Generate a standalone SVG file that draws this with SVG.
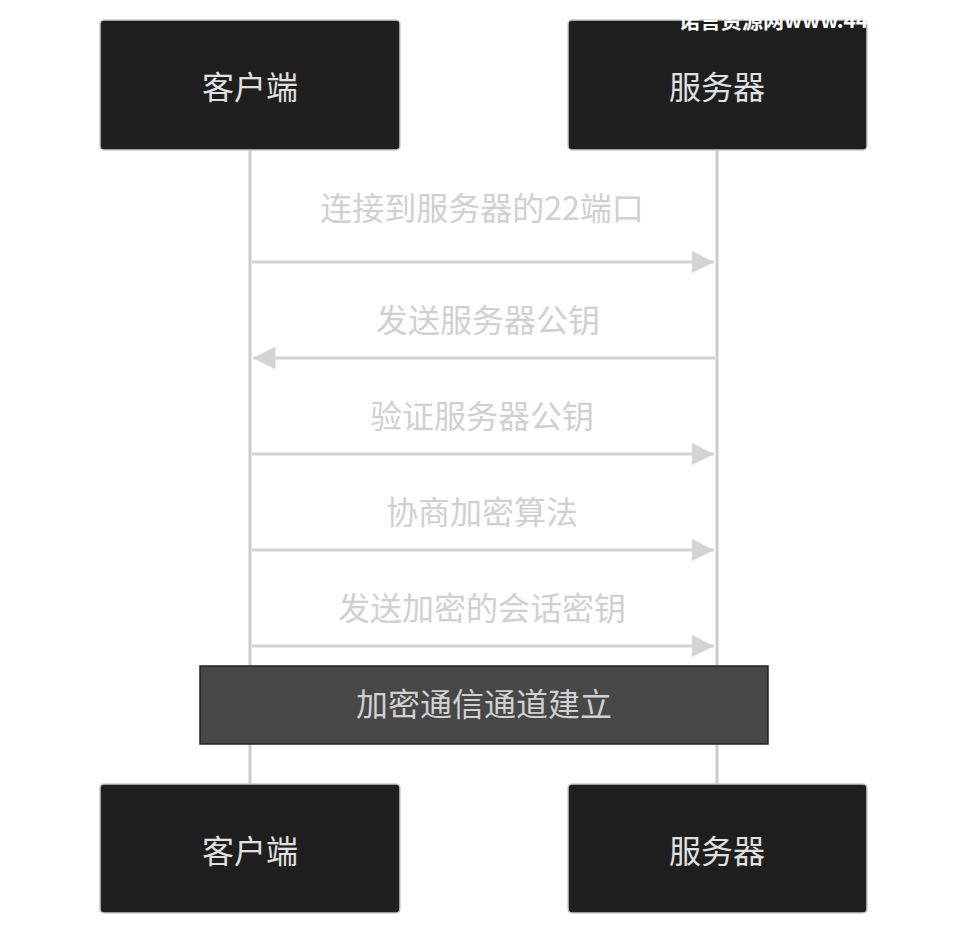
<svg xmlns="http://www.w3.org/2000/svg" width="968" height="936" viewBox="0 0 968 936">
<style>
.actor{fill:#1f1f1f;stroke:#ccc;stroke-width:1.5}
.at{fill:#e0e0e0;font:32px "Noto Sans CJK SC","Noto Sans",sans-serif;text-anchor:middle;dominant-baseline:central}
.ml{fill:#d0d0d0;font:32px "Noto Sans CJK SC","Noto Sans",sans-serif;text-anchor:middle}
.msg{stroke:#d3d3d3;stroke-width:3;fill:none}
.life{stroke:#ccc;stroke-width:3}
</style>
<defs>
<marker id="ah" viewBox="0 0 10 10" refX="10" refY="5" markerWidth="7.5" markerHeight="7.5" markerUnits="strokeWidth" orient="auto"><path d="M0,0L10,5L0,10z" fill="#d3d3d3"/></marker>
</defs>
<rect width="968" height="936" fill="#fff"/>
<g id="lifelines"><line class="life" x1="250" y1="150" x2="250" y2="785"/><line class="life" x1="717" y1="150" x2="717" y2="785"/></g>
<g id="client-top"><rect class="actor" x="100" y="20" width="300" height="130" rx="4"/><text class="at" x="250" y="85">客户端</text></g>
<g id="server-top"><rect class="actor" x="568" y="20" width="299" height="130" rx="4"/><text class="at" x="717" y="85">服务器</text></g>
<text x="679" y="28" fill="#fff" font-family="Noto Sans CJK SC,sans-serif" font-weight="bold" font-size="21">诺言资源网www.44</text>
<g id="connectors">
<line class="msg" x1="252" y1="262" x2="714" y2="262" marker-end="url(#ah)"/>
<text class="ml" x="482" y="220">连接到服务器的22端口</text>
<line class="msg" x1="715" y1="358" x2="253" y2="358" marker-end="url(#ah)"/>
<text class="ml" x="488" y="332">发送服务器公钥</text>
<line class="msg" x1="252" y1="454" x2="714" y2="454" marker-end="url(#ah)"/>
<text class="ml" x="482" y="428">验证服务器公钥</text>
<line class="msg" x1="252" y1="550" x2="714" y2="550" marker-end="url(#ah)"/>
<text class="ml" x="482" y="524">协商加密算法</text>
<line class="msg" x1="252" y1="646" x2="714" y2="646" marker-end="url(#ah)"/>
<text class="ml" x="482" y="620">发送加密的会话密钥</text>
</g>
<g id="note"><rect x="200" y="666" width="568" height="78" fill="#484848" stroke="#222" stroke-width="1.5"/><text class="ml" x="484" y="716" fill="#cfcfcf">加密通信通道建立</text></g>
<g id="client-bottom"><rect class="actor" x="100" y="784" width="300" height="129" rx="4"/><text class="at" x="250" y="849">客户端</text></g>
<g id="server-bottom"><rect class="actor" x="568" y="784" width="299" height="129" rx="4"/><text class="at" x="717" y="849">服务器</text></g>
</svg>
